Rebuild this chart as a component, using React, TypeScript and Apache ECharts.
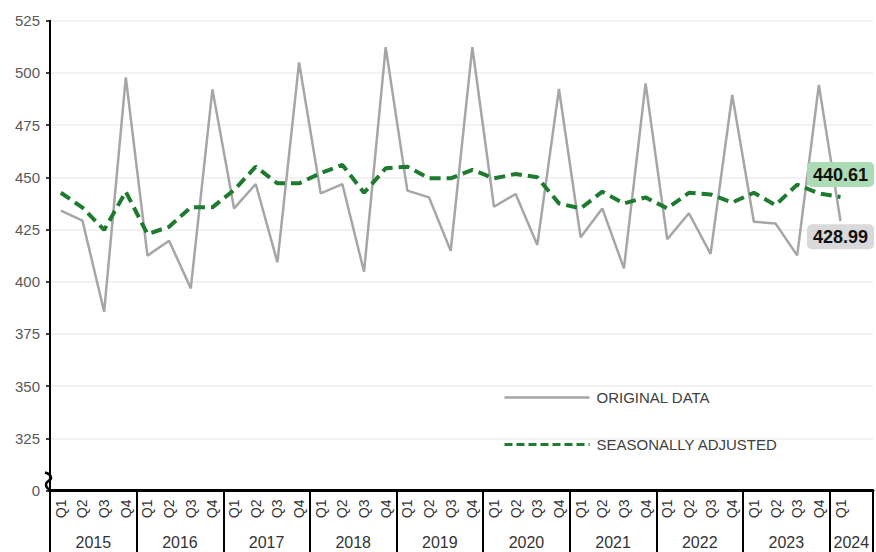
import React, { useEffect, useRef } from "react";
import * as echarts from "echarts";

const yearLabels = ["2015", "2016", "2017", "2018", "2019", "2020", "2021", "2022", "2023", "2024"];
const quarterNames = ["Q1", "Q2", "Q3", "Q4"];

const originalData = [
  434, 429.2, 385.6, 497.9,
  412.5, 419.6, 396.8, 492.1,
  435.1, 446.8, 409.3, 505,
  442.3, 446.7, 404.8, 512.3,
  443.6, 440.4, 414.8, 512.3,
  435.9, 442, 417.6, 492.3,
  421.3, 435.1, 406.4, 495,
  420.3, 432.8, 413.3, 489.4,
  428.7, 427.9, 412.6, 494.2,
  428.99,
];

const seasonalData = [
  442.6, 435.5, 424.8, 443.1,
  422.8, 426.3, 435.6, 435.6,
  443.9, 455.1, 447.1, 447.1,
  452, 455.9, 442.6, 454.3,
  455.1, 449.5, 449.5, 453.6,
  449.5, 451.6, 450, 437.5,
  435.1, 443.1, 437.5, 440.4,
  435.1, 442.6, 441.8, 437.9,
  442.6, 436.7, 446.5, 442.3,
  440.61,
];

const yMin = 300;
const yMax = 525;
const yStep = 25;

const FONT = "'Liberation Sans', Arial, sans-serif";

// 2024 group has room for two quarters; only Q1 is filled
const categories: string[] = [];
yearLabels.forEach((y, yi) => {
  const n = yi === yearLabels.length - 1 ? 2 : 4;
  for (let q = 0; q < n; q++) categories.push(q === 0 || yi < yearLabels.length - 1 ? quarterNames[q] : "");
});

// year label position (in category units) -> year text
const yearCenters: Record<number, string> = {};
{
  let start = 0;
  yearLabels.forEach((y, yi) => {
    const n = yi === yearLabels.length - 1 ? 2 : 4;
    yearCenters[start + n / 2] = y;
    start += n;
  });
}

export default function App() {
  const ref = useRef<HTMLDivElement>(null);

  useEffect(() => {
    if (!ref.current) return;
    const chart = echarts.init(ref.current, undefined, { renderer: "svg" });
    const last = originalData.length - 1;

    const labelBase = {
      show: true,
      fontFamily: FONT,
      fontSize: 18,
      fontWeight: "bold",
      color: "#111",
      padding: [4, 6, 3, 6],
      borderRadius: 5,
      formatter: (p: any) => Number(p.value).toFixed(2),
    };

    chart.setOption({
      animation: false,
      backgroundColor: "#fff",
      grid: { left: 50, right: 3, top: 20.7, bottom: 61.5, containLabel: false },
      legend: {
        orient: "vertical",
        left: 498,
        top: 385,
        itemWidth: 85,
        itemHeight: 14,
        itemGap: 32,
        itemStyle: { opacity: 0 },
        textStyle: { fontFamily: FONT, fontSize: 15, color: "#404040", padding: [0, 0, 0, 2] },
        data: [
          { name: "ORIGINAL DATA", lineStyle: { width: 2.5, color: "#a6a6a6" }, itemStyle: { opacity: 0 } },
          {
            name: "SEASONALLY ADJUSTED",
            lineStyle: { width: 3, color: "#1e7a2e", type: [8, 4] },
            itemStyle: { opacity: 0 },
          },
        ],
      },
      xAxis: [
        {
          type: "category",
          data: categories,
          boundaryGap: true,
          axisLine: { show: true, lineStyle: { color: "#000", width: 3 } },
          axisTick: {
            show: true,
            interval: (idx: number) => idx % 4 === 0,
            length: 70,
            lineStyle: { color: "#000", width: 2 },
          },
          axisLabel: {
            interval: 0,
            rotate: 90,
            margin: 9,
            fontFamily: FONT,
            fontSize: 14,
            color: "#333",
          },
          splitLine: { show: false },
        },
        {
          type: "value",
          min: 0,
          max: categories.length,
          interval: 1,
          position: "bottom",
          axisLine: { show: false },
          axisTick: { show: false },
          splitLine: { show: false },
          axisLabel: {
            margin: 44,
            fontFamily: FONT,
            fontSize: 16,
            color: "#333",
            showMinLabel: true,
            showMaxLabel: true,
            formatter: (v: number) => yearCenters[v] ?? "",
          },
        },
      ],
      yAxis: {
        type: "value",
        min: yMin,
        max: yMax,
        interval: yStep,
        axisLine: { show: true, lineStyle: { color: "#000", width: 2 } },
        axisTick: { show: true, length: 4, lineStyle: { color: "#000", width: 1.5 } },
        axisLabel: {
          margin: 10,
          fontFamily: FONT,
          fontSize: 15,
          color: "#595959",
          formatter: (v: number) => (v === yMin ? "0" : String(v)),
        },
        splitLine: { show: true, lineStyle: { color: "#eeeeee", width: 1.5 } },
      },
      series: [
        {
          name: "ORIGINAL DATA",
          type: "line",
          symbol: "circle",
          symbolSize: 0,
          showSymbol: true,
          z: 2,
          lineStyle: { color: "#a6a6a6", width: 2.5 },
          itemStyle: { color: "#a6a6a6" },
          data: originalData.map((v, i) =>
            i === last
              ? { value: v, label: { ...labelBase, position: "bottom", distance: 3, backgroundColor: "#d9d9d9" } }
              : v
          ),
        },
        {
          name: "SEASONALLY ADJUSTED",
          type: "line",
          symbol: "circle",
          symbolSize: 0,
          showSymbol: true,
          z: 3,
          lineStyle: { color: "#1e7a2e", width: 4, type: [11, 6] },
          itemStyle: { color: "#1e7a2e" },
          data: seasonalData.map((v, i) =>
            i === last
              ? { value: v, label: { ...labelBase, position: "top", distance: 10, backgroundColor: "#addbb5" } }
              : v
          ),
        },
      ],
    });

    const ax = chart.convertToPixel({ xAxisIndex: 1 }, 0) as number;
    const ay = chart.convertToPixel({ yAxisIndex: 0 }, yMin) as number;
    chart.setOption({
      graphic: [
        {
          type: "polyline",
          z: 100,
          shape: {
            points: [
              [ax - 5, ay - 18],
              [ax + 1, ay - 13],
              [ax - 4, ay - 6],
              [ax + 1, ay],
            ],
            smooth: 0.6,
          },
          style: { stroke: "#000", lineWidth: 2.5, fill: "none" },
        },
      ],
    });

    return () => chart.dispose();
  }, []);

  return (
    <div
      ref={ref}
      style={{ position: "fixed", left: 0, top: 0, width: 876, height: 552 }}
    />
  );
}
